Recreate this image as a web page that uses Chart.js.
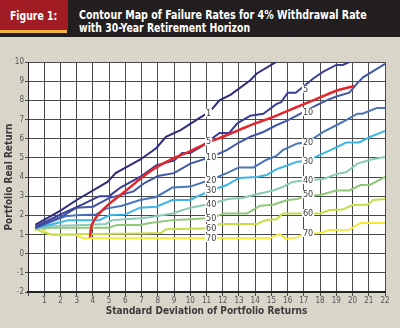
<!DOCTYPE html>
<html>
<head>
<meta charset="utf-8">
<script src="https://cdn.jsdelivr.net/npm/chart.js@4.4.1/dist/chart.umd.min.js"></script>
<style>
  html, body { margin: 0; padding: 0; background: #d9d5c9; }
  #wrap { position: relative; width: 400px; height: 328px; overflow: hidden; background: #d9d5c9; }
  #hdr { position: absolute; left: 0; top: 0; width: 400px; height: 37px; background: #231f20; }
  #fig { position: absolute; left: 0; top: 0; width: 68px; height: 30px; background: #a11d23; }
  #stripe { position: absolute; left: 0; top: 30px; width: 67px; height: 3px; background: #efb442; }
  .fit { position: absolute; color: #fff; font: bold 13px/13px "DejaVu Sans Condensed", sans-serif; white-space: nowrap; transform-origin: 0 0; }
  #figtxt { left: 10px; top: 9px; }
  #ttl1 { left: 79px; top: 8px; }
  #ttl2 { left: 79px; top: 21px; }
  canvas { position: absolute; left: 0; top: 0; }
</style>
</head>
<body>
<div id="wrap">
  <canvas id="chart" width="400" height="328"></canvas>
  <div id="hdr">
    <div id="fig"></div>
    <div id="stripe"></div>
    <div class="fit" id="figtxt" data-w="47">Figure 1:</div>
    <div class="fit" id="ttl1" data-w="288">Contour Map of Failure Rates for 4% Withdrawal Rate</div>
    <div class="fit" id="ttl2" data-w="171">with 30-Year Retirement Horizon</div>
  </div>
</div>
<script>
// failure-rate contours: [std dev, real return] pairs
const contour1 = [[0.45,1.5],[2,2.25],[3,2.8],[4.9,3.74],[5.4,4.2],[6.9,4.9],[7.9,5.5],[8.5,6.1],[9.4,6.45],[10.6,7.1],[11.2,7.4],[11.8,8.0],[12.5,8.3],[13.7,9.05],[14.1,9.4],[15.3,10]];
const contour5 = [[0.45,1.4],[2,2.05],[3.3,2.55],[4.4,3.0],[5.0,3.0],[5.7,3.45],[6.9,4.0],[7.9,4.6],[8.5,4.75],[9.0,4.85],[9.5,5.25],[10.0,5.25],[10.6,5.55],[11.8,6.3],[12.4,6.3],[12.9,6.8],[13.7,7.2],[14.5,7.3],[15.3,7.8],[15.6,7.9],[16.0,8.4],[16.5,8.4],[17.6,9.15],[18.2,9.5],[19.0,9.85],[19.4,9.85],[19.8,10]];
const contour10 = [[0.45,1.35],[2.2,2.0],[3.0,2.4],[4.0,2.45],[5.0,2.9],[6.5,3.25],[7.2,3.7],[8.0,4.05],[9.0,4.2],[10,4.7],[11.3,5.05],[12.25,5.4],[13,5.8],[13.7,6.1],[14.5,6.35],[15.3,6.7],[16,6.95],[17,7.4],[17.8,7.75],[18.4,8.0],[19,8.2],[19.8,8.4],[20.3,8.9],[20.65,9.2],[21.9,9.85],[22,9.9]];
const contour20 = [[0.45,1.33],[2.3,1.95],[3.0,2.0],[4.2,2.05],[4.8,2.35],[5.8,2.5],[6.9,2.8],[7.9,2.96],[8.9,3.45],[10,3.5],[11.2,3.84],[12.25,4.2],[13,4.5],[13.9,4.5],[14.7,4.9],[15.3,5.1],[15.7,5.4],[16.6,5.75],[17.2,5.8],[18.2,6.35],[19,6.7],[19.6,6.97],[20.3,7.3],[20.6,7.3],[21.5,7.6],[22,7.6]];
const contour30 = [[0.45,1.32],[1.8,1.6],[2.5,1.75],[4.4,1.75],[5,2.0],[6,2.05],[6.9,2.4],[7.9,2.45],[8.9,2.8],[10,2.8],[10.6,3.05],[11.3,3.3],[12.25,3.58],[13,3.95],[14.1,4.0],[14.7,4.1],[15.3,4.4],[15.7,4.52],[16.6,4.8],[17.2,4.85],[18,5.15],[19,5.55],[19.6,5.8],[20.4,5.8],[21.1,6.1],[21.7,6.3],[22,6.4]];
const contour40 = [[0.45,1.3],[1.5,1.45],[3.5,1.5],[4.8,1.55],[5.2,1.75],[6.9,1.85],[7.5,1.9],[8.9,2.1],[10,2.4],[11.3,2.6],[12.3,2.85],[13.2,2.9],[14.1,3.1],[15.1,3.3],[15.7,3.48],[16.3,3.74],[17.2,3.84],[18.2,3.9],[19,4.15],[19.6,4.25],[20.3,4.7],[21.1,4.9],[22,5.05]];
const contour50 = [[0.45,1.3],[1.5,1.35],[5.0,1.35],[5.5,1.5],[6.9,1.5],[7.5,1.6],[8.9,1.75],[10,1.8],[11.3,1.86],[12.1,2.1],[13.5,2.1],[13.9,2.3],[14.3,2.5],[15.1,2.55],[16,2.8],[16.6,2.85],[17.2,3.05],[18,3.06],[19,3.3],[19.8,3.3],[20.5,3.58],[21.1,3.6],[22,4.0]];
const contour60 = [[0.45,1.28],[1.0,1.1],[1.5,1.0],[6.9,1.05],[8.2,1.08],[8.5,1.28],[11.3,1.32],[11.8,1.55],[14.1,1.55],[14.7,1.76],[15.3,1.8],[15.7,2.1],[18,2.1],[18.6,2.28],[19.4,2.3],[20,2.54],[20.9,2.55],[21.3,2.8],[22,2.85]];
const contour70 = [[0.4,1.25],[0.8,1.35],[1.2,1.05],[1.5,0.97],[3.0,0.97],[3.4,0.8],[14.9,0.8],[15.5,1.03],[15.9,0.77],[16.6,0.85],[17.0,1.05],[18.0,1.08],[18.6,1.23],[19.8,1.25],[20.5,1.6],[22,1.6]];
// 4% withdrawal boundary curve
const redCurve = [[3.82,0.85],[3.88,1.3],[4.05,1.7],[4.4,2.1],[5.0,2.6],[5.6,3.0],[6.2,3.4],[6.9,3.9],[7.9,4.5],[8.9,4.95],[10,5.35],[11,5.75],[12,6.1],[13,6.45],[14,6.8],[15,7.1],[16,7.45],[17,7.8],[18,8.15],[19,8.5],[20.1,8.75]];

const contourSets = [contour1, contour5, contour10, contour20, contour30, contour40, contour50, contour60, contour70];
const contourColors = ['#2e2c7c', '#3a3e96', '#4157a7', '#4a74bb', '#3db5e6', '#88cbb5', '#8ec878', '#c8dc48', '#f3ea3a'];
const levelText = ['1', '5', '10', '20', '30', '40', '50', '60', '70'];
// contour label anchors (x, y) for the two label columns
const labelX = [10.97, 16.94];
const labelY1 = [7.35, 5.85, 5.05, 3.85, 3.3, 2.6, 1.86, 1.34, 0.82];
const labelY2 = [null, 8.6, 7.4, 5.8, 4.85, 3.84, 3.1, 2.12, 1.08];
const xTicks = [1,2,3,4,5,6,7,8,9,10,11,12,13,14,15,16,17,18,19,20,21,22];

// squeeze header text into its condensed width
document.querySelectorAll('.fit').forEach(el => {
  const target = parseFloat(el.dataset.w);
  el.style.transform = 'scaleX(' + (target / el.scrollWidth) + ')';
});

function toPoints(arr) {
  return arr.map(p => ({ x: p[0], y: p[1] }));
}

const datasets = [{
  data: toPoints(redCurve),
  borderColor: '#e5252a',
  borderWidth: 2.5,
  pointRadius: 0,
  tension: 0.3,
  cubicInterpolationMode: 'monotone'
}];
contourSets.forEach((c, i) => {
  datasets.push({
    data: toPoints(c),
    borderColor: contourColors[i],
    borderWidth: 2,
    pointRadius: 0,
    tension: 0
  });
});

const contourLabels = {
  id: 'contourLabels',
  afterDatasetsDraw(chart) {
    const { ctx, scales: { x, y } } = chart;
    ctx.save();
    ctx.font = '9px "DejaVu Sans Condensed", sans-serif';
    ctx.textBaseline = 'middle';
    ctx.textAlign = 'left';
    [labelY1, labelY2].forEach((col, ci) => {
      col.forEach((v, i) => {
        if (v === null) return;
        const px = x.getPixelForValue(labelX[ci]);
        const py = y.getPixelForValue(v);
        const w = ctx.measureText(levelText[i]).width;
        ctx.fillStyle = '#ffffff';
        ctx.fillRect(px - 1, py - 4, w + 2, 8);
        ctx.fillStyle = '#3c3c3c';
        ctx.fillText(levelText[i], px, py + 0.5);
      });
    });
    ctx.restore();
  }
};

const plotBg = {
  id: 'plotBg',
  beforeDraw(chart) {
    const { ctx, chartArea: a } = chart;
    ctx.save();
    ctx.fillStyle = '#ffffff';
    ctx.fillRect(a.left, a.top, a.right - a.left, a.bottom - a.top);
    ctx.restore();
  }
};

new Chart(document.getElementById('chart'), {
  type: 'line',
  data: { datasets: datasets },
  options: {
    responsive: false,
    animation: false,
    events: [],
    layout: { padding: { top: 62, right: 15, left: 0, bottom: 0 } },
    plugins: { legend: { display: false }, tooltip: { enabled: false } },
    scales: {
      x: {
        type: 'linear',
        min: 0,
        max: 22,
        afterFit: s => { s.height = 36; },
        afterBuildTicks: s => { s.ticks = [0].concat(xTicks).map(v => ({ value: v })); },
        ticks: {
          stepSize: 1,
          color: '#555',
          font: { size: 8, family: '"DejaVu Sans Condensed", sans-serif' },
          padding: 0,
          maxRotation: 0,
          callback: v => (v === 0 ? '' : v)
        },
        grid: { color: '#4a4a4a', lineWidth: 1, tickLength: 4 },
        border: { color: '#222', width: 2 },
        title: {
          display: true,
          text: 'Standard Deviation of Portfolio Returns',
          color: '#3a3a3a',
          font: { size: 10, weight: 'bold', family: '"DejaVu Sans Condensed", sans-serif' },
          padding: { top: 0, bottom: 11 }
        }
      },
      y: {
        type: 'linear',
        min: -2,
        max: 10,
        afterFit: s => { s.width = 28; },
        ticks: {
          stepSize: 1,
          color: '#555',
          font: { size: 8, family: '"DejaVu Sans Condensed", sans-serif' },
          padding: 1
        },
        grid: { color: '#4a4a4a', lineWidth: 1, tickLength: 3 },
        border: { color: '#222', width: 1 },
        title: {
          display: true,
          text: 'Portfolio Real Return',
          color: '#3a3a3a',
          font: { size: 10, weight: 'bold', family: '"DejaVu Sans Condensed", sans-serif' },
          padding: { top: 3, bottom: 0 }
        }
      }
    }
  },
  plugins: [plotBg, contourLabels]
});
</script>
</body>
</html>
